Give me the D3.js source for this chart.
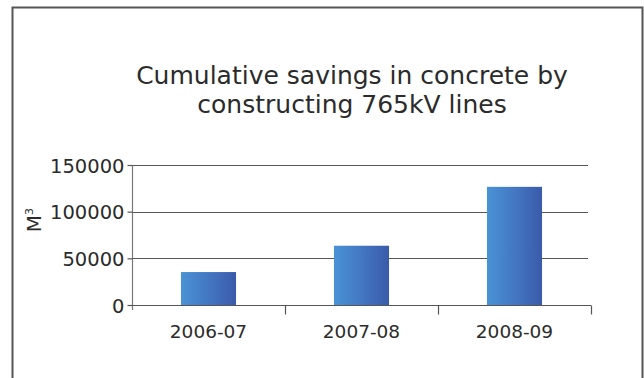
<!DOCTYPE html>
<html>
<head>
<meta charset="utf-8">
<script src="https://cdn.jsdelivr.net/npm/d3@7"></script>
<style>
  html, body { margin: 0; padding: 0; background: #fff; }
  svg { display: block; }
  text { font-family: "DejaVu Sans", sans-serif; fill: #2b2b2b; }
</style>
</head>
<body>
<svg id="chart" width="644" height="378"></svg>
<script>
// Cumulative concrete savings (cubic metres) per financial year
const years = ["2006-07", "2007-08", "2008-09"];
const savings = [35300, 63500, 126600];
const yTicks = [0, 50000, 100000, 150000];
const titleLines = ["Cumulative savings in concrete by", "constructing 765kV lines"];

const svg = d3.select("#chart");
const W = 644, H = 378;
const plot = { left: 132, right: 591, top: 165, bottom: 305 };

// outer frame (open at the bottom)
svg.append("path")
  .attr("d", `M12.5,${H} V7.5 H642.5 V${H}`)
  .attr("fill", "none")
  .attr("stroke", "#555")
  .attr("stroke-width", 2);

// title
const title = svg.append("text")
  .attr("text-anchor", "middle")
  .attr("font-size", 25)
  .attr("fill", "#333");
titleLines.forEach((t, i) => {
  title.append("tspan").attr("x", 352).attr("y", 84 + i * 29).text(t);
});

const x = d3.scaleBand()
  .domain(years)
  .range([plot.left, plot.right])
  .paddingInner(0.64)
  .paddingOuter(0.32);

const y = d3.scaleLinear()
  .domain([0, 150000])
  .range([plot.bottom, plot.top]);

// bar gradient
const grad = svg.append("defs").append("linearGradient")
  .attr("id", "barGrad").attr("x1", "0%").attr("x2", "100%");
grad.append("stop").attr("offset", "0%").attr("stop-color", "#4a93d5");
grad.append("stop").attr("offset", "55%").attr("stop-color", "#4274c0");
grad.append("stop").attr("offset", "100%").attr("stop-color", "#3a5aa9");

// horizontal gridlines
svg.append("g")
  .selectAll("line")
  .data(yTicks.filter(d => d > 0))
  .join("line")
  .attr("x1", plot.left).attr("x2", plot.right - 3)
  .attr("y1", d => Math.round(y(d)) + 0.5).attr("y2", d => Math.round(y(d)) + 0.5)
  .attr("stroke", "#555").attr("stroke-width", 1.2);

// bars
svg.append("g")
  .selectAll("rect")
  .data(years.map((c, i) => ({ c, v: savings[i] })))
  .join("rect")
  .attr("x", d => x(d.c))
  .attr("width", x.bandwidth())
  .attr("y", d => y(d.v))
  .attr("height", d => y(0) - y(d.v))
  .attr("fill", "url(#barGrad)");

// y axis
const yAxis = svg.append("g")
  .attr("transform", `translate(${plot.left + 0.5},0)`)
  .call(d3.axisLeft(y).tickValues(yTicks).tickSize(5).tickPadding(3).tickFormat(d3.format("d")));
yAxis.select(".domain").attr("d", `M0,${plot.top} V${plot.bottom + 5}`).attr("stroke", "#777").attr("stroke-width", 1.2);
yAxis.selectAll(".tick line").attr("stroke", "#555").attr("stroke-width", 1.2);
yAxis.selectAll(".tick text")
  .attr("font-size", 19.5)
  .attr("fill", "#333")
  .attr("dy", "0.36em");

// x axis
const xAxis = svg.append("g")
  .attr("transform", `translate(0,${plot.bottom + 0.5})`);
xAxis.append("line")
  .attr("x1", plot.left).attr("x2", plot.right)
  .attr("stroke", "#555").attr("stroke-width", 1.2);
// category boundary ticks
const bounds = years.map(c => x(c) + x.bandwidth() + x.step() * 0.32);
xAxis.selectAll("line.sep")
  .data(bounds)
  .join("line")
  .attr("class", "sep")
  .attr("x1", d => Math.round(d) + 0.5).attr("x2", d => Math.round(d) + 0.5)
  .attr("y1", 0).attr("y2", 9)
  .attr("stroke", "#555").attr("stroke-width", 1.2);
xAxis.selectAll("text")
  .data(years)
  .join("text")
  .attr("x", d => x(d) + x.bandwidth() / 2)
  .attr("y", 32)
  .attr("text-anchor", "middle")
  .attr("font-size", 18.5)
  .attr("fill", "#333")
  .text(d => d);

// y axis unit label
const unit = svg.append("text")
  .attr("transform", "translate(41,220) rotate(-90)")
  .attr("text-anchor", "middle")
  .attr("font-size", 20)
  .attr("fill", "#333");
unit.append("tspan").text("M");
unit.append("tspan").attr("font-size", 11).attr("dy", "-0.75em").text("3");
</script>
</body>
</html>
